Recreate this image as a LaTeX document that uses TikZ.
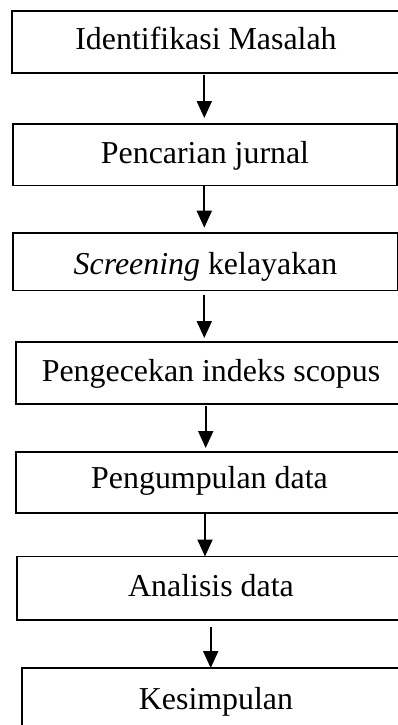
\documentclass[tikz,border=0pt]{standalone}
\usepackage{fontspec}
\setmainfont{Liberation Serif}
\usetikzlibrary{arrows.meta}
\begin{document}
\begin{tikzpicture}[x=1pt,y=-1pt,
  stepbox/.style={draw, line width=1.7pt, rectangle, inner sep=0pt, outer sep=0pt,
    text depth=6.5pt, font=\fontsize{31.9}{38}\selectfont},
  flow/.style={line width=2pt, -{Triangle[width=15pt,length=17pt]}}]
\useasboundingbox (0,0) rectangle (398,725);
\clip (0,0) rectangle (398,725);

% process steps
\node[stepbox, minimum width=388pt, minimum height=62.3pt, text height=20.8pt] (b1) at (206,42.15) {Identifikasi Masalah};
\node[stepbox, minimum width=384pt, minimum height=61.2pt, text height=23.3pt] (b2) at (205,154.9) {Pencarian jurnal};
\node[stepbox, minimum width=385pt, minimum height=57.2pt, text height=30.7pt] (b3) at (205.5,261.9) {\textit{Screening} kelayakan};
\node[stepbox, minimum width=390pt, minimum height=61.7pt, text height=23.6pt] (b4) at (211,373.15) {Pengecekan indeks scopus};
\node[stepbox, minimum width=387pt, minimum height=61.3pt, text height=17.8pt] (b5) at (209.5,482.65) {Pengumpulan data};
\node[stepbox, minimum width=388pt, minimum height=63.5pt, text height=23.4pt] (b6) at (211,588.25) {Analisis data};
\node[stepbox, minimum width=388pt, minimum height=64pt, text height=25.1pt] (b7) at (216,700) {Kesimpulan};

% arrow columns
\coordinate (c1) at (204.3,0);
\coordinate (c2) at (204.3,0);
\coordinate (c3) at (204.3,0);
\coordinate (c4) at (205.7,0);
\coordinate (c5) at (205,0);
\coordinate (c6) at (210.7,0);

% connectors
\draw[flow, shorten <=1.5pt, shorten >=6.3pt] (b1.south -| c1) -- (b2.north -| c1);
\draw[flow, shorten >=5.6pt] (b2.south -| c2) -- (b3.north -| c2);
\draw[flow, shorten <=4.5pt, shorten >=4.3pt] (b3.south -| c3) -- (b4.north -| c3);
\draw[flow, shorten <=2pt, shorten >=4pt] (b4.south -| c4) -- (b5.north -| c4);
\draw[flow] (b5.south -| c5) -- (b6.north -| c5);
\draw[flow, shorten <=6.7pt] (b6.south -| c6) -- (b7.north -| c6);
\end{tikzpicture}
\end{document}
